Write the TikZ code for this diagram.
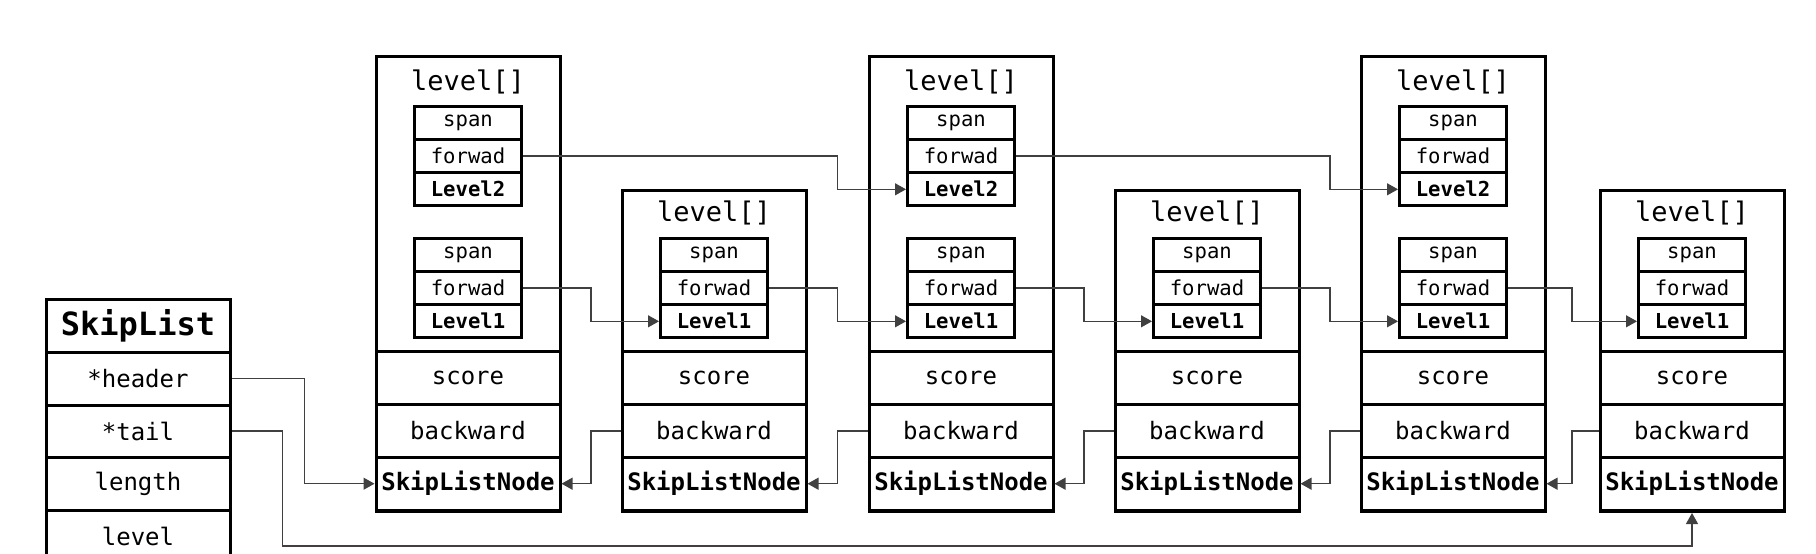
\documentclass[tikz,border=0pt]{standalone}
\usepackage{fontspec}
\setmonofont{DejaVu Sans Mono}
\usetikzlibrary{arrows.meta,calc}
\begin{document}
\begin{tikzpicture}[x=0.5pt,y=-0.5pt,
  outer/.style={draw, line width=1.5pt, inner sep=0pt, minimum width=92pt, anchor=north},
  rowcell/.style={draw, line width=1.5pt, inner sep=0pt, minimum width=92pt, minimum height=26.33pt, font=\ttfamily\fontsize{12}{12}\selectfont},
  lvcell/.style={draw, line width=1.5pt, inner sep=0pt, minimum width=53.5pt, minimum height=16.67pt, font=\ttfamily\fontsize{10.3}{10.3}\selectfont},
  lbl/.style={inner sep=0pt, font=\ttfamily\fontsize{13.5}{13.5}\selectfont},
  conn/.style={draw=black!75, line width=0.6pt, -{Triangle[length=5.5pt,width=6pt]}}]
\useasboundingbox (0,0) rectangle (1816,553);
\clip (0,0) rectangle (1816,553);
% SkipList structure
\node[rowcell, minimum height=26.5pt, font=\ttfamily\bfseries\fontsize{16}{16}\selectfont] (slname) at (138,325.5) {SkipList};
\node[rowcell, minimum height=26.5pt] (slh) at (138,378.5) {*header};
\node[rowcell, minimum height=26pt] (slt) at (138,431) {*tail};
\node[rowcell, minimum height=26.5pt] (sll) at (138,483.5) {length};
\node[rowcell, minimum height=26.5pt] (sllv) at (138,536.5) {level};
% tall nodes
\foreach \i/\C in {1/468,3/961,5/1453}{
  \node[outer, minimum height=227.5pt] (n\i) at (\C,55) {};
  \node[lbl] (n\i-lab) at (\C,82) {level[]};
  \node[lvcell] (n\i-l2s) at (\C,122.7) {span};
  \node[lvcell] (n\i-l2f) at (\C,156) {forwad};
  \node[lvcell, font=\ttfamily\bfseries\fontsize{10.3}{10.3}\selectfont] (n\i-l2) at (\C,189.3) {Level2};
}
% short nodes
\foreach \i/\C in {2/714,4/1207,6/1692}{
  \node[outer, minimum height=160.5pt] (n\i) at (\C,189) {};
  \node[lbl] (n\i-lab) at (\C,213) {level[]};
}
% common parts
\foreach \i/\C in {1/468,2/714,3/961,4/1207,5/1453,6/1692}{
  \node[lvcell] (n\i-l1s) at (\C,254.7) {span};
  \node[lvcell] (n\i-l1f) at (\C,288) {forwad};
  \node[lvcell, font=\ttfamily\bfseries\fontsize{10.3}{10.3}\selectfont] (n\i-l1) at (\C,321.3) {Level1};
  \node[rowcell] (n\i-sc) at (\C,378.3) {score};
  \node[rowcell] (n\i-bw) at (\C,431) {backward};
  \node[rowcell, font=\ttfamily\bfseries\fontsize{12}{12}\selectfont] (n\i-sln) at (\C,483.7) {SkipListNode};
}
% gap coordinates
\coordinate (g12) at (591,0);
\coordinate (g23) at (837.5,0);
\coordinate (g34) at (1084,0);
\coordinate (g45) at (1330,0);
\coordinate (g56) at (1572,0);
\coordinate (tb) at (0,546);
% level1 forward pointers
\draw[conn] (n1-l1f.east) -- (n1-l1f.east -| g12) |- (n2-l1.west);
\draw[conn] (n2-l1f.east) -- (n2-l1f.east -| g23) |- (n3-l1.west);
\draw[conn] (n3-l1f.east) -- (n3-l1f.east -| g34) |- (n4-l1.west);
\draw[conn] (n4-l1f.east) -- (n4-l1f.east -| g45) |- (n5-l1.west);
\draw[conn] (n5-l1f.east) -- (n5-l1f.east -| g56) |- (n6-l1.west);
% level2 forward pointers
\draw[conn] (n1-l2f.east) -- (n1-l2f.east -| g23) |- (n3-l2.west);
\draw[conn] (n3-l2f.east) -- (n3-l2f.east -| g45) |- (n5-l2.west);
% backward pointers
\draw[conn] (n2-bw.west) -- (n2-bw.west -| g12) |- (n1-sln.east);
\draw[conn] (n3-bw.west) -- (n3-bw.west -| g23) |- (n2-sln.east);
\draw[conn] (n4-bw.west) -- (n4-bw.west -| g34) |- (n3-sln.east);
\draw[conn] (n5-bw.west) -- (n5-bw.west -| g45) |- (n4-sln.east);
\draw[conn] (n6-bw.west) -- (n6-bw.west -| g56) |- (n5-sln.east);
% header and tail
\draw[conn] (slh.east) -- ++(73,0) |- (n1-sln.west);
\draw[conn] (slt.east) -- ++(51,0) |- (tb -| n6.south) -- (n6.south);
\end{tikzpicture}
\end{document}
